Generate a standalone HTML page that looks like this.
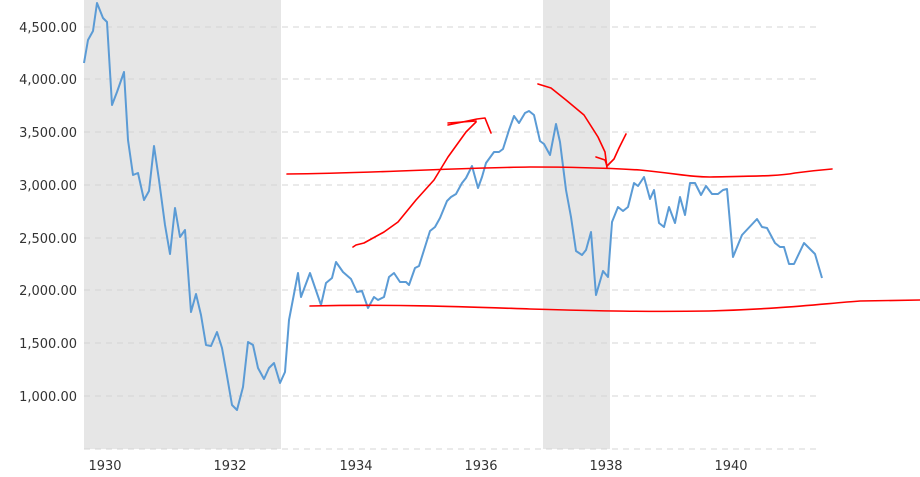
<!DOCTYPE html>
<html><head><style>
body{margin:0;background:#fff}
svg{display:block;font-family:"DejaVu Sans","Liberation Sans",sans-serif}
</style></head><body>
<svg width="920" height="477" viewBox="0 0 920 477" xmlns="http://www.w3.org/2000/svg">
<rect x="84" y="0" width="197" height="449" fill="#e6e6e6"/>
<rect x="543" y="0" width="67" height="449" fill="#e6e6e6"/>
<g stroke="#d4d4d4" stroke-dasharray="6,5" stroke-width="1">
<line x1="84" x2="820" y1="27" y2="27"/><line x1="84" x2="820" y1="79" y2="79"/>
<line x1="84" x2="820" y1="132" y2="132"/><line x1="84" x2="820" y1="185" y2="185"/>
<line x1="84" x2="820" y1="238" y2="238"/><line x1="84" x2="820" y1="290" y2="290"/>
<line x1="84" x2="820" y1="343" y2="343"/><line x1="84" x2="820" y1="396" y2="396"/>
<line x1="84" x2="820" y1="449" y2="449"/>
</g>
<g font-size="13" fill="#333" text-anchor="end">
<text x="77" y="32">4,500.00</text><text x="77" y="84">4,000.00</text>
<text x="77" y="137">3,500.00</text><text x="77" y="190">3,000.00</text>
<text x="77" y="243">2,500.00</text><text x="77" y="295">2,000.00</text>
<text x="77" y="348">1,500.00</text><text x="77" y="401">1,000.00</text>
</g>
<g font-size="13" fill="#333" text-anchor="middle">
<text x="105" y="470">1930</text><text x="230" y="470">1932</text><text x="356" y="470">1934</text>
<text x="481" y="470">1936</text><text x="606" y="470">1938</text><text x="731" y="470">1940</text>
</g>
<polyline fill="none" stroke="#5b9bd5" stroke-width="2" stroke-linejoin="round" points="84,63 88,40 93,31 97,3 103,18 107,22 112,105 117,92 124,72 128,140 133,175 138,173 144,200 149,191 154,146 159,180 165,225 170,254 175,208 180,237 185,230 191,312 196,294 201,315 206,345 211,346 217,332 222,348 227,376 232,405 237,410 243,387 248,342 253,345 258,368 264,379 269,368 274,363 280,383 285,372 289,320 298,273 301,297 310,273 321,305 326,283 332,278 336,262 343,272 351,279 357,292 362,291 368,308 374,297 378,300 384,297 389,277 394,273 400,282 406,282 409,285 415,268 419,266 430,231 435,227 440,218 447,201 451,197 456,194 462,183 466,178 472,166 478,188 482,177 486,163 494,152 499,152 503,149 509,130 514,116 519,123 525,113 529,111 534,115 540,141 544,144 550,155 556,124 560,142 566,190 571,217 576,251 582,255 586,250 591,232 596,295 603,271 608,277 612,222 618,207 623,211 628,207 634,183 638,186 644,177 650,199 654,190 659,223 664,227 669,207 675,223 680,197 685,215 690,183 695,183 701,195 706,186 712,194 718,194 723,190 727,189 733,257 742,235 757,219 762,227 767,228 775,243 780,247 784,247 789,264 794,264 804,243 815,254 822,278"/>
<g fill="none" stroke="#f00" stroke-width="1.6" stroke-linecap="round" stroke-linejoin="round">
<path d="M287,174 C380,173 450,168 530,167 C580,167 607,168 640,170 C680,174 690,177 710,177 C760,176 780,176 795,173 C810,171 820,170 832,169"/>
<path d="M310,306 C400,304 470,307 530,309 C600,311 650,312 709,311 C780,309 820,304 860,301 L920,300"/>
<polyline points="353,247 356,245 364,243 384,232 398,222 416,200 434,180 448,157 466,132 476,122"/>
<polyline points="448,125 477,119 485,118 491,133"/>
<polyline points="448,123 476,121"/>
<polyline points="538,84 551,88 566,100 584,115 598,137 605,152 607,168"/>
<polyline points="596,157 605,160 607,166 614,159 619,148 626,134"/>
</g>
</svg>
</body></html>
